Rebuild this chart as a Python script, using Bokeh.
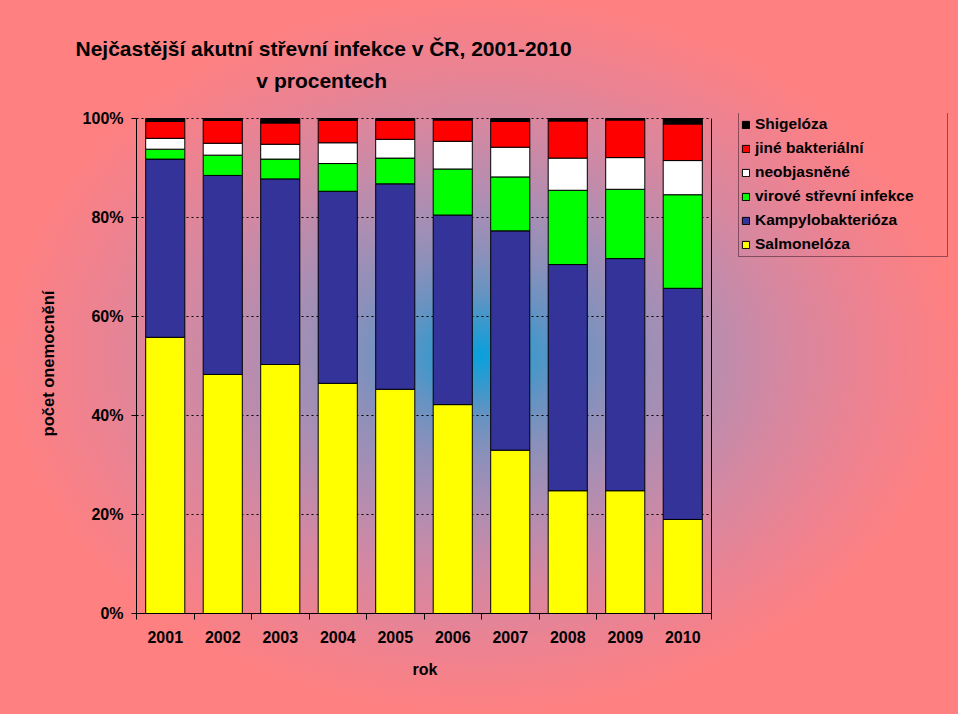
from bokeh.plotting import figure
from bokeh.models import (ColumnDataSource, Legend, LegendItem, Title,
                          FixedTicker, PrintfTickFormatter)
from bokeh.embed import file_html
from bokeh.resources import INLINE

years = ["2001", "2002", "2003", "2004", "2005", "2006", "2007", "2008", "2009", "2010"]
salmoneloza = [55.8, 48.3, 50.3, 46.5, 45.3, 42.2, 33.0, 24.8, 24.8, 19.0]
kampylobakterioza = [36.0, 40.2, 37.5, 38.8, 41.5, 38.3, 44.3, 45.7, 46.9, 46.7]
virove = [2.0, 4.1, 4.0, 5.6, 5.2, 9.3, 10.9, 15.0, 14.0, 18.9]
neobjasnene = [2.2, 2.4, 3.0, 4.2, 3.8, 5.6, 6.0, 6.5, 6.4, 6.9]
jine_bakterialni = [3.4, 4.6, 4.3, 4.5, 3.8, 4.3, 5.2, 7.5, 7.6, 7.4]
shigeloza = [0.6, 0.4, 0.9, 0.4, 0.4, 0.3, 0.6, 0.5, 0.3, 1.1]

series_names = ["Salmonelóza", "Kampylobakterióza", "virové střevní infekce",
                "neobjasněné", "jiné bakteriální", "Shigelóza"]
series_colors = ["#FFFF00", "#333399", "#00FF00", "#FFFFFF", "#FF0000", "#000000"]
y_ticks = [0, 20, 40, 60, 80, 100]
title_line1 = "Nejčastější akutní střevní infekce v ČR, 2001-2010"
title_line2 = "v procentech"
x_title = "rok"
y_title = "počet onemocnění"

FONT = "Liberation Sans"
N = len(years)
YMAX = y_ticks[-1]

xpos = [i + 0.5 for i in range(N)]
keys = ["s0", "s1", "s2", "s3", "s4", "s5"]
source = ColumnDataSource(dict(x=xpos, s0=salmoneloza, s1=kampylobakterioza, s2=virove,
                               s3=neobjasnene, s4=jine_bakterialni, s5=shigeloza))

# frame: x from 136px to 958px (bars occupy 136..711), y from 113px to 613px
x_end = N * (958 - 136) / (711 - 136)
y_end = YMAX * (613 - 113) / (613 - 118)

p = figure(width=958, height=714, output_backend="svg", toolbar_location=None,
           x_range=(0, x_end), y_range=(0, y_end),
           min_border_left=136, min_border_right=0, min_border_top=113, min_border_bottom=101)
p.background_fill_color = None
p.border_fill_color = None
p.outline_line_color = None
p.styles = {
    "background-color": "#FF8080",
    "background-image": ("radial-gradient(ellipse 480px 362px at 480px 355px, "
                         "#0AA0DC 0%, #3A98CC 9%, #6693C2 17%, #8C90BA 28%, #AC8EB3 42%, "
                         "#D488A2 62%, #EE8290 82%, #FF8080 100%)"),
}

# dotted grid lines, limited to the bar area
p.segment(x0=[0] * len(y_ticks), x1=[N] * len(y_ticks), y0=y_ticks, y1=y_ticks,
          line_color="black", line_dash="2 3", line_width=1, level="underlay")
# right border of the plot area
p.segment(x0=[N], x1=[N], y0=[0], y1=[YMAX], line_color="black", line_width=1)

renderers = p.vbar_stack(keys, x="x", width=0.68, source=source, fill_color=series_colors,
                         line_color="black", line_width=1)

# axes
p.xaxis.bounds = (0, N)
p.xaxis.ticker = FixedTicker(ticks=xpos, minor_ticks=list(range(N + 1)))
p.xaxis.major_label_overrides = {x: y for x, y in zip(xpos, years)}
p.xaxis.major_tick_out = 0
p.xaxis.major_tick_in = 0
p.xaxis.minor_tick_out = 6
p.xaxis.minor_tick_in = 0
p.xaxis.major_label_standoff = 11

p.yaxis.bounds = (0, YMAX)
p.yaxis.ticker = FixedTicker(ticks=y_ticks, minor_ticks=[])
p.yaxis.formatter = PrintfTickFormatter(format="%d%%")
p.yaxis.major_tick_out = 5
p.yaxis.major_tick_in = 0
p.yaxis.major_label_standoff = 8
p.yaxis.axis_label = y_title
p.yaxis.axis_label_standoff = 23

for ax in (p.xaxis[0], p.yaxis[0]):
    ax.axis_line_color = "black"
    ax.major_tick_line_color = "black"
    ax.minor_tick_line_color = "black"
    ax.major_label_text_font = FONT
    ax.major_label_text_font_style = "bold"
    ax.major_label_text_font_size = "16px"
    ax.major_label_text_color = "black"
    ax.axis_label_text_font = FONT
    ax.axis_label_text_font_style = "bold"
    ax.axis_label_text_font_size = "16.5px"
    ax.axis_label_text_color = "black"

p.xgrid.grid_line_color = None
p.ygrid.grid_line_color = None

# x axis title, centred under the bar area
p.add_layout(Title(text=x_title, align="left", offset=276, standoff=30,
                   vertical_align="top", text_font=FONT, text_font_style="bold",
                   text_font_size="16px", text_color="black"), "below")

# two-line title, second line centred under the first
pad = "\u00a0" * 31
title = Title(text=title_line1 + "\n" + pad + title_line2, align="left", offset=-61,
              text_font=FONT, text_font_style="bold", text_font_size="21px",
              text_color="black", text_line_height=1.38, standoff=43,
              vertical_align="bottom")
p.add_layout(title, "above")

items = [LegendItem(label=n, renderers=[r]) for n, r in zip(series_names, renderers)][::-1]
legend = Legend(items=items, location=(738 - 136, 613 - 257), orientation="vertical")
legend.label_text_font = FONT
legend.label_text_font_style = "bold"
legend.label_text_font_size = "15.5px"
legend.label_text_color = "black"
legend.glyph_width = 9
legend.glyph_height = 9
legend.label_height = 20
legend.label_standoff = 5
legend.label_width = 190
legend.spacing = 4
legend.padding = 2
legend.margin = 0
legend.border_line_color = "#301020"
legend.border_line_width = 1
legend.background_fill_color = None
legend.background_fill_alpha = 0
p.add_layout(legend, "center")

open("out.html", "w").write(file_html(p, INLINE))
